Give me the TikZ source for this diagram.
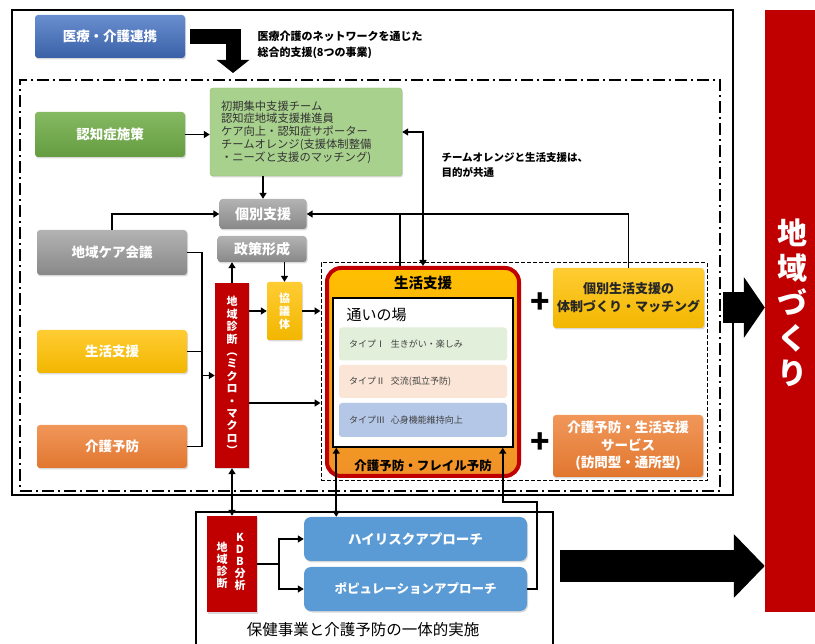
\documentclass[tikz,border=0pt]{standalone}
\usepackage{fontspec}
\setmainfont{Noto Sans CJK JP}
\usepackage{xcolor}
\usepackage{tikz}
\usetikzlibrary{arrows.meta,shadows}

\definecolor{medblue}{HTML}{4472C4}
\definecolor{demgreen}{HTML}{70AD47}
\definecolor{listgreen}{HTML}{A9D18E}
\definecolor{tilegray}{HTML}{A0A0A0}
\definecolor{lifeyellow}{HTML}{FFC000}
\definecolor{prevorange}{HTML}{ED7D31}
\definecolor{townred}{HTML}{C00000}
\definecolor{appblue}{HTML}{5B9BD5}
\definecolor{typeone}{HTML}{E2EFDA}
\definecolor{typetwo}{HTML}{FBE5D6}
\definecolor{typethree}{HTML}{B4C7E7}
\newcommand{\setfs}[2]{\fontsize{#1}{#2}\selectfont}

\tikzset{
    tile/.style={rounded corners=3pt,inner sep=0pt,align=center,text=white,
      font=\setfs{13.5}{17}\bfseries,
      drop shadow={opacity=0.3,shadow xshift=1pt,shadow yshift=-1.5pt}},
    bluetile/.style={tile,top color=medblue!80!white,bottom color=medblue!85!black},
    greentile/.style={tile,top color=demgreen!85!white,bottom color=demgreen!90!black},
    graytile/.style={tile,top color=tilegray!80!white,bottom color=tilegray!85!black},
    yeltile/.style={tile,top color=lifeyellow!80!white,bottom color=lifeyellow!95!black},
    oratile/.style={tile,top color=prevorange!80!white,bottom color=prevorange!95!black},
    redbar/.style={tile,rounded corners=0pt,fill=townred},
    typebox/.style={rounded corners=3pt,inner xsep=10pt,inner ysep=0pt,text width=148pt,
      align=left,minimum width=168pt,minimum height=33pt,text=black!75,font=\setfs{9}{11}},
    link/.style={line width=1.6pt},
    arr/.style={link,-{Triangle[length=6pt,width=7pt]}},
    arrs/.style={link,{Triangle[length=6pt,width=7pt]}-{Triangle[length=6pt,width=7pt]}}
}

\begin{document}
\begin{tikzpicture}[x=1pt,y=-1pt]
  \useasboundingbox (0,0) rectangle (815,644);

  % frames
  \node[draw,line width=1.2pt,minimum width=721pt,minimum height=485pt,inner sep=0pt] (outer) at (372.5,252.5) {};
  \node[draw,line width=1.6pt,dash pattern=on 12pt off 4pt on 2pt off 4pt,
    minimum width=700pt,minimum height=411pt,inner sep=0pt] (area) at (370,285.5) {};
  \node[draw,line width=1pt,dash pattern=on 4pt off 2pt,minimum width=386pt,minimum height=218pt,inner sep=0pt]
    (lifearea) at (514,372) {};
  \node[draw,line width=1.2pt,minimum width=357pt,minimum height=138pt,inner sep=0pt] (hoken) at (374.5,581) {};

  % top part
  \node[bluetile,minimum width=150pt,minimum height=43pt] (med) at (110,36.5) {医療・介護連携};
  \node[anchor=west,align=left,font=\setfs{11}{16}\bfseries] (medlabel) at (254,45)
    {医療介護のネットワークを通じた\\総合的支援(8つの事業)};
  \coordinate (medtip) at (233,73);
  \draw[line width=15pt,shorten <=5pt,-{Triangle[width=32pt,length=13pt]}] (med.east) -| (medtip);

  \node[greentile,minimum width=150pt,minimum height=45pt] (dem) at (110,134.5) {認知症施策};
  \node[rounded corners=3pt,fill=listgreen,draw=demgreen!80,minimum width=192pt,minimum height=88pt,text width=170pt,
    align=left,inner sep=0pt,font=\setfs{11.3}{12.8},text=black!80,
    drop shadow={opacity=0.3,shadow xshift=1pt,shadow yshift=-1.5pt}] (demlist) at (306,132)
    {初期集中支援チーム\\認知症地域支援推進員\\ケア向上・認知症サポーター\\チームオレンジ(支援体制整備\\・ニーズと支援のマッチング)};
  \node[anchor=west,align=left,font=\setfs{10.5}{15}\bfseries] (teamlabel) at (438,165)
    {チームオレンジと生活支援は、\\目的が共通};

  \node[graytile,minimum width=87pt,minimum height=30pt,font=\setfs{14}{16}\bfseries] (kobetsu) at (263,214) {個別支援};
  \node[graytile,minimum width=89pt,minimum height=26pt,font=\setfs{14}{16}\bfseries] (seisaku) at (262,249) {政策形成};

  % left column
  \node[graytile,minimum width=150pt,minimum height=45pt] (care) at (112,252.5) {地域ケア会議};
  \node[yeltile,minimum width=150pt,minimum height=43pt] (life) at (112,351.5) {生活支援};
  \node[oratile,minimum width=150pt,minimum height=43pt] (prev) at (112,446.5) {介護予防};

  \node[redbar,minimum width=34pt,minimum height=185pt,font=\setfs{11}{12.4}\bfseries] (diag) at (232,375.5)
    {地\\域\\診\\断\\︵\\ミ\\ク\\ロ\\・\\マ\\ク\\ロ\\︶};
  \node[yeltile,rounded corners=2pt,minimum width=35pt,minimum height=58pt,font=\setfs{11}{13}\bfseries] (kyogi) at (284.5,311)
    {協\\議\\体};

  % life support block
  \node[draw=townred,line width=4pt,rounded corners=14pt,top color=lifeyellow,
    bottom color=prevorange!85!yellow,minimum width=192pt,minimum height=208pt,inner sep=0pt] (lifebig) at (423,372) {};
  \node[font=\setfs{14.5}{16}\bfseries] (lifetitle) at (423,283) {生活支援};
  \node[font=\setfs{12.5}{14}\bfseries] (frail) at (423,466) {介護予防・フレイル予防};
  \node[draw,fill=white,line width=1.5pt,minimum width=180pt,minimum height=149pt,inner sep=0pt] (kayoi) at (423,372.5) {};
  \node[anchor=west,font=\setfs{15}{17}] (kayoititle) at (343,315) {通いの場};
  \node[typebox,fill=typeone] (type1) at (423,344) {タイプⅠ\hspace{6pt}生きがい・楽しみ};
  \node[typebox,fill=typetwo] (type2) at (423,381.5) {タイプⅡ\hspace{6pt}交流(孤立予防)};
  \node[typebox,fill=typethree,minimum height=34pt] (type3) at (423,420) {タイプⅢ\hspace{6pt}心身機能維持向上};

  \node[font=\setfs{32}{32}\bfseries] (plus1) at (540,303) {+};
  \node[font=\setfs{32}{32}\bfseries] (plus2) at (540,443) {+};
  \node[yeltile,minimum width=151pt,minimum height=60pt,text=black!85,font=\setfs{13}{18}\bfseries] (kobseikatsu) at (628.5,298)
    {個別生活支援の\\体制づくり・マッチング};
  \node[oratile,minimum width=150pt,minimum height=62pt,font=\setfs{13.5}{17.5}\bfseries] (service) at (628,446)
    {介護予防・生活支援\\サービス\\(訪問型・通所型)};

  % bottom part
  \node[redbar,minimum width=50pt,minimum height=96pt] (kdb) at (232,564) {};
  \node[align=center,text=white,inner sep=0pt,font=\setfs{11}{12}\bfseries] (kdbA) at (240,562) {K\\D\\B\\分\\析};
  \node[align=center,text=white,inner sep=0pt,font=\setfs{11}{12}\bfseries] (kdbB) at (222,565) {地\\域\\診\\断};
  \node[tile,rounded corners=7pt,fill=appblue,minimum width=223pt,minimum height=44pt] (hirisk) at (415.5,539) {ハイリスクアプローチ};
  \node[tile,rounded corners=7pt,fill=appblue,minimum width=223pt,minimum height=44pt,font=\setfs{12.5}{15}\bfseries] (popu) at (415.5,589)
    {ポピュレーションアプローチ};
  \node[font=\setfs{15.5}{17}] (hokenlabel) at (363,630) {保健事業と介護予防の一体的実施};

  % town
  \node[fill=townred,minimum width=50pt,minimum height=602pt,inner sep=0pt] (town) at (790,311) {};
  \node[align=center,text=white,inner sep=0pt,font=\setfs{30}{35}\bfseries] (townlabel) at (792,303)
    {地\\域\\づ\\く\\り};
  \coordinate (tw1) at (723,307.5);
  \draw[line width=31pt,-{Triangle[width=60pt,length=21pt]}] (tw1) -- (tw1 -| town.west);
  \coordinate (tw2) at (560,566);
  \draw[line width=32pt,-{Triangle[width=62pt,length=31pt]}] (tw2) -- (tw2 -| town.west);

  % connectors
  \draw[arr] (dem.east) -- (dem.east -| demlist.west);
  \draw[arr] (kobetsu.north |- demlist.south) -- (kobetsu.north);
  \draw[arr] (care.north) |- (kobetsu.west);
  \coordinate (bus) at (202,375.5);
  \draw[link] (care.east) -| (bus |- prev.east) -- (prev.east);
  \draw[link] (life.east) -- (life.east -| bus);
  \draw[arr] (bus) -- (diag.west);
  \draw[arr] (diag.north) -- (diag.north |- seisaku.south);
  \draw[arr] (kyogi.north |- seisaku.south) -- (kyogi.north);
  \draw[arr] (diag.east |- kyogi.west) -- (kyogi.west);
  \draw[arr] (kyogi.east) -- (kyogi.east -| lifearea.west);
  \draw[arr] ([yshift=-27.5pt]diag.east) coordinate (d2) -- (d2 -| lifearea.west);
  \draw[arr] (kobseikatsu.north) |- (kobetsu.east);
  \draw[link] ([xshift=-23pt]lifebig.north) -- ([xshift=-23pt]lifebig.north |- kobetsu.east);
  \draw[arrs] (demlist.east) -| (lifebig.north);
  \draw[arrs] (diag.south) -- (kdb.north);
  \draw[arrs] ([xshift=4pt]kayoi.south west) coordinate (k1) -- (k1 |- hirisk.north);
  \coordinate (popbend) at (537,502);
  \draw[arr] (popu.east) -| (popbend) -| ([xshift=-11pt]kayoi.south east);
  \coordinate (split) at (279,564);
  \draw[link] (kdb.east) -- (split);
  \draw[arr] (split) |- (hirisk.west);
  \draw[arr] (split) |- (popu.west);
\end{tikzpicture}
\end{document}
